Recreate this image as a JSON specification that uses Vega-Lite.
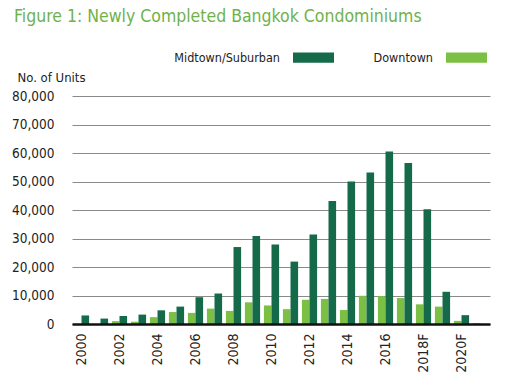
{
  "$schema": "https://vega.github.io/schema/vega-lite/v6.json",
  "width": 418,
  "height": 228,
  "autosize": {"type": "none"},
  "padding": {"left": 72, "top": 96, "right": 26, "bottom": 67},
  "background": "white",
  "title": {
    "text": "Figure 1: Newly Completed Bangkok Condominiums",
    "anchor": "start",
    "frame": "group",
    "dx": -58,
    "dy": -8,
    "font": "DejaVu Sans Condensed",
    "fontSize": 17.5,
    "fontWeight": "normal",
    "color": "#6fb24b"
  },
  "datasets": {
    "units": [
      {"year": "2000", "area": "Downtown", "units": 0},
      {"year": "2000", "area": "Midtown/Suburban", "units": 3000},
      {"year": "2001", "area": "Downtown", "units": 0},
      {"year": "2001", "area": "Midtown/Suburban", "units": 1900},
      {"year": "2002", "area": "Downtown", "units": 1000},
      {"year": "2002", "area": "Midtown/Suburban", "units": 2800},
      {"year": "2003", "area": "Downtown", "units": 800},
      {"year": "2003", "area": "Midtown/Suburban", "units": 3300},
      {"year": "2004", "area": "Downtown", "units": 2400},
      {"year": "2004", "area": "Midtown/Suburban", "units": 4800},
      {"year": "2005", "area": "Downtown", "units": 4200},
      {"year": "2005", "area": "Midtown/Suburban", "units": 6100},
      {"year": "2006", "area": "Downtown", "units": 3900},
      {"year": "2006", "area": "Midtown/Suburban", "units": 9400},
      {"year": "2007", "area": "Downtown", "units": 5400},
      {"year": "2007", "area": "Midtown/Suburban", "units": 10700},
      {"year": "2008", "area": "Downtown", "units": 4600},
      {"year": "2008", "area": "Midtown/Suburban", "units": 27000},
      {"year": "2009", "area": "Downtown", "units": 7600},
      {"year": "2009", "area": "Midtown/Suburban", "units": 30900},
      {"year": "2010", "area": "Downtown", "units": 6500},
      {"year": "2010", "area": "Midtown/Suburban", "units": 27900},
      {"year": "2011", "area": "Downtown", "units": 5200},
      {"year": "2011", "area": "Midtown/Suburban", "units": 21900},
      {"year": "2012", "area": "Downtown", "units": 8500},
      {"year": "2012", "area": "Midtown/Suburban", "units": 31400},
      {"year": "2013", "area": "Downtown", "units": 8800},
      {"year": "2013", "area": "Midtown/Suburban", "units": 43200},
      {"year": "2014", "area": "Downtown", "units": 4900},
      {"year": "2014", "area": "Midtown/Suburban", "units": 50000},
      {"year": "2015", "area": "Downtown", "units": 9900},
      {"year": "2015", "area": "Midtown/Suburban", "units": 53200},
      {"year": "2016", "area": "Downtown", "units": 9800},
      {"year": "2016", "area": "Midtown/Suburban", "units": 60500},
      {"year": "2017", "area": "Downtown", "units": 9100},
      {"year": "2017", "area": "Midtown/Suburban", "units": 56500},
      {"year": "2018F", "area": "Downtown", "units": 6900},
      {"year": "2018F", "area": "Midtown/Suburban", "units": 40300},
      {"year": "2019F", "area": "Downtown", "units": 6100},
      {"year": "2019F", "area": "Midtown/Suburban", "units": 11300},
      {"year": "2020F", "area": "Downtown", "units": 1100},
      {"year": "2020F", "area": "Midtown/Suburban", "units": 3100},
      {"year": "2021F", "area": "Downtown", "units": 300},
      {"year": "2021F", "area": "Midtown/Suburban", "units": 0}
    ]
  },
  "data": {"name": "units"},
  "mark": {"type": "bar", "stroke": null},
  "encoding": {
    "x": {
      "field": "year",
      "type": "nominal",
      "sort": null,
      "scale": {"paddingInner": 0.2, "paddingOuter": 0.1},
      "axis": {
        "title": null,
        "values": ["2000", "2002", "2004", "2006", "2008", "2010", "2012", "2014", "2016", "2018F", "2020F"],
        "labelAngle": -90,
        "labelPadding": 9,
        "labelFont": "DejaVu Sans Condensed",
        "labelFontSize": 14,
        "labelColor": "#222222",
        "ticks": false,
        "domainColor": "#111111",
        "domainWidth": 2.5,
        "grid": false,
        "zindex": 1
      }
    },
    "xOffset": {
      "field": "area",
      "type": "nominal",
      "scale": {"domain": ["Downtown", "Midtown/Suburban"], "paddingInner": 0}
    },
    "y": {
      "field": "units",
      "type": "quantitative",
      "scale": {"domain": [0, 80000]},
      "axis": {
        "values": [0, 10000, 20000, 30000, 40000, 50000, 60000, 70000, 80000],
        "format": ",d",
        "title": "No. of Units",
        "titleAngle": 0,
        "titleAlign": "left",
        "titleBaseline": "alphabetic",
        "titleX": -55,
        "titleY": -15,
        "titleFont": "DejaVu Sans Condensed",
        "titleFontSize": 13,
        "titleFontWeight": "normal",
        "titleColor": "#222222",
        "labelFont": "DejaVu Sans Condensed",
        "labelFontSize": 13.5,
        "labelColor": "#222222",
        "labelPadding": 18,
        "ticks": false,
        "domain": false,
        "gridColor": "#8a8a8a",
        "gridWidth": 1
      }
    },
    "color": {
      "field": "area",
      "type": "nominal",
      "scale": {"domain": ["Midtown/Suburban", "Downtown"], "range": ["#156a4a", "#7cbf45"]},
      "legend": {
        "title": null,
        "orient": "none",
        "direction": "horizontal",
        "legendX": 221,
        "legendY": -59,
        "symbolType": "M-1,-0.25H1V0.25H-1Z",
        "symbolSize": 1681,
        "symbolStrokeWidth": 0,
        "symbolOpacity": 1,
        "labelAlign": "right",
        "labelOffset": -54,
        "labelFont": "DejaVu Sans Condensed",
        "labelFontSize": 12.5,
        "labelColor": "#222222",
        "columnPadding": 39
      }
    }
  },
  "config": {"view": {"stroke": null}}
}
